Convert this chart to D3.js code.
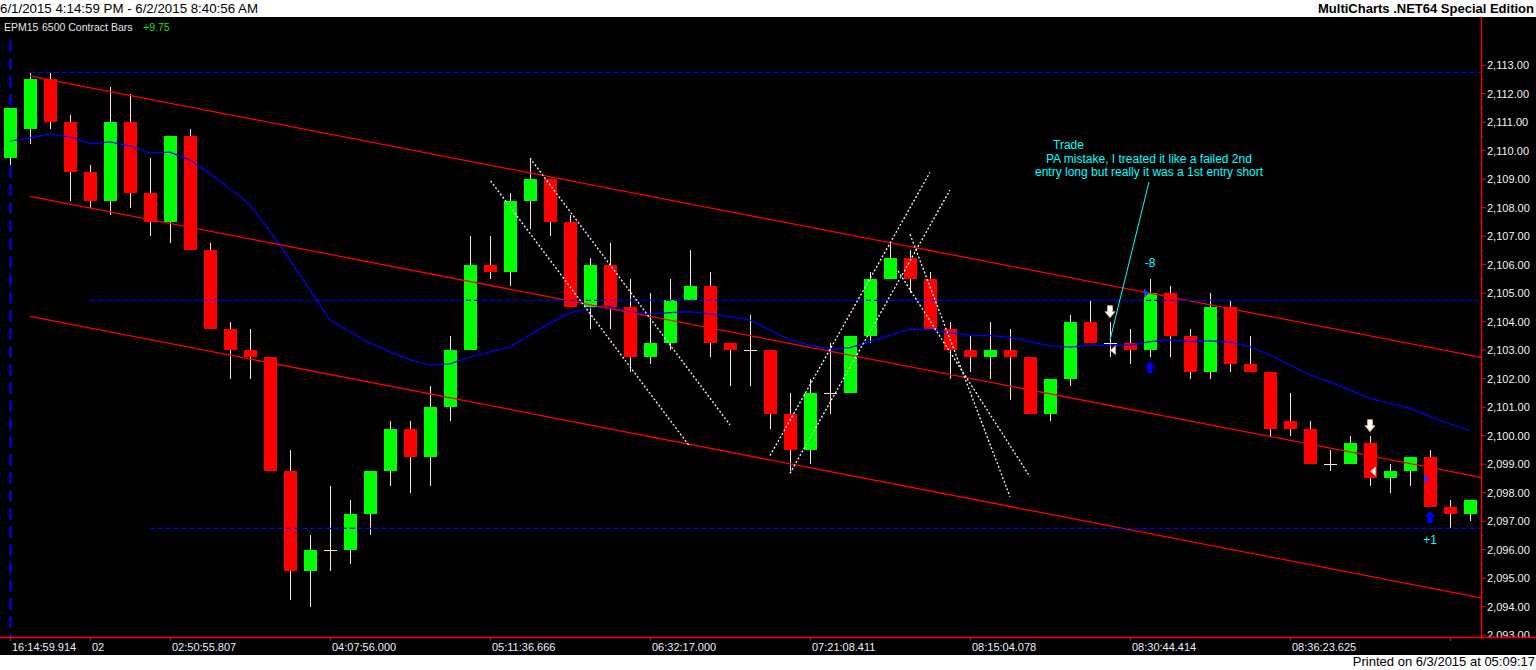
<!DOCTYPE html>
<html>
<head>
<meta charset="utf-8">
<script src="https://cdn.jsdelivr.net/npm/d3@7"></script>
<style>
body { margin:0; background:#fff; }
svg { display:block; font-family:"Liberation Sans", Arial, sans-serif; }
</style>
</head>
<body>
<svg></svg>
<script>
// EPM15 6500 contract bars, one entry per bar
var opens = [2109.75,2110.75,2112.5,2111,2109.25,2108.25,2111,2108.5,2107.5,2110.5,
  2106.5,2103.75,2103,2102.75,2098.75,2095.25,2096,2096,2097.25,2098.75,
  2100.25,2099.25,2101,2103,2106,2105.75,2108.25,2109,2107.5,2104.5,
  2106,2104.5,2102.75,2103.25,2104.75,2105.25,2103.25,2103,2103,2100.75,
  2099.5,2101.5,2101.5,2103.5,2105.5,2106.25,2105.5,2103.75,2103,2102.75,
  2103,2102.75,2100.75,2102,2104,2103.25,2103.25,2103,2105,2103.5,
  2102.25,2104.5,2102.5,2102.25,2100.5,2100.25,2099,2099,2099.75,2098.5,
  2098.75,2099.25,2097.5,2097.25];
var highs = [2111.5,2112.75,2112.75,2111.25,2109.5,2112.25,2112,2109.75,2110.5,2110.75,
  2106.75,2104,2103.75,2102.75,2099.5,2096.5,2098.25,2097.75,2098.75,2100.5,
  2100.5,2101.75,2103.5,2107,2107,2108.5,2109.75,2109,2107.75,2106.25,
  2106.75,2105.5,2105,2105.5,2106.5,2105.75,2103.25,2104.25,2103,2101.5,
  2102,2103.25,2103.5,2105.75,2106.75,2106.5,2105.75,2104,2103.5,2104,
  2103.75,2102.75,2102,2104.25,2104.75,2104,2103.75,2105.5,2105.25,2103.75,
  2105,2104.75,2103.5,2102.25,2101.5,2100.5,2099.5,2100,2100,2099,
  2099.25,2099.5,2097.75,2097.75];
var lows = [2109.5,2110.25,2110.75,2108.25,2108,2107.75,2108,2107,2106.75,2106.5,
  2103.75,2102,2102,2098.75,2094.25,2094,2095.25,2095.5,2096.5,2098.25,
  2098,2098.25,2100.5,2103,2105.5,2105.25,2107.25,2107,2104.5,2103.75,
  2103.75,2102.25,2102.5,2103,2104.75,2102.75,2101.75,2101.75,2100.25,2098.75,
  2099,2100.75,2101.5,2103.25,2105.5,2105,2103.75,2102,2102.25,2102,
  2101.25,2100.75,2100.5,2101.75,2103.25,2102.75,2102.5,2102.75,2102.75,2102,
  2102,2102.25,2102.25,2100,2100,2099,2098.75,2099,2098.25,2098,
  2098.25,2097.5,2096.75,2097];
var closes = [2111.5,2112.5,2111,2109.25,2108.25,2111,2108.5,2107.5,2110.5,2106.5,
  2103.75,2103,2102.75,2098.75,2095.25,2096,2096,2097.25,2098.75,2100.25,
  2099.25,2101,2103,2106,2105.75,2108.25,2109,2107.5,2104.5,2106,
  2104.5,2102.75,2103.25,2104.75,2105.25,2103.25,2103,2103,2100.75,2099.5,
  2101.5,2101.5,2103.5,2105.5,2106.25,2105.5,2103.75,2103,2102.75,2103,
  2102.75,2100.75,2102,2104,2103.25,2103.25,2103,2105,2103.5,2102.25,
  2104.5,2102.5,2102.25,2100.25,2100.25,2099,2099,2099.75,2098.5,2098.75,
  2099.25,2097.5,2097.25,2097.75];
// moving average (blue)
var avg = [2110.34,2110.45,2110.59,2110.48,2110.24,2110.31,2110.16,2109.92,2109.95,2109.67,
  2109.18,2108.66,2108.10,2107.18,2106.16,2105.11,2104.06,2103.64,2103.25,2102.94,
  2102.66,2102.48,2102.52,2102.76,2102.94,2103.11,2103.53,2103.95,2104.31,2104.48,
  2104.52,2104.35,2104.27,2104.32,2104.35,2104.27,2104.18,2104.06,2103.71,2103.36,
  2103.18,2103.04,2103.09,2103.30,2103.53,2103.73,2103.73,2103.61,2103.53,2103.51,
  2103.45,2103.30,2103.15,2103.11,2103.17,2103.18,2103.18,2103.30,2103.36,2103.30,
  2103.33,2103.28,2103.12,2102.83,2102.48,2102.13,2101.89,2101.60,2101.31,2101.14,
  2100.96,2100.67,2100.41,2100.18];

var priceTicks = [2093,2094,2095,2096,2097,2098,2099,2100,2101,2102,2103,
  2104,2105,2106,2107,2108,2109,2110,2111,2112,2113];
var timeTickBars = [0,4,8,16,24,32,40,48,56,64,72];
var timeLabels = ["16:14:59.914","02","02:50:55.807","04:07:56.000","05:11:36.666",
  "06:32:17.000","07:21:08.411","08:15:04.078","08:30:44.414","08:36:23.625",""];

// regression channel [bar, price] start / end
var channelBars = [1, 73.55];
var channelUpper = [2112.62, 2102.75];
var channelMid = [2108.40, 2098.54];
var channelLow = [2104.19, 2094.31];
// horizontal levels [start bar, price]
var levels = [[1, 2112.75], [4, 2104.75], [7, 2096.75]];
// dotted trend lines [bar1, price1, bar2, price2]
var trendLines = [[24.03,2108.94,34,2099.61],[26,2109.74,36,2100.38],
  [38,2099.30,46,2109.24],[39,2098.68,47,2108.62],
  [45,2107.07,50,2097.86],[44.4,2105.78,51,2098.56]];
// trade markers
var exitArrows = [55, 68];
var entryArrows = [57, 71];
var exitFills = [[55, 2103], [68, 2098.75]];
var entryFills = [[57, 2105], [71, 2098.5]];
var tradeResults = [[57, 2106.06, "-8"], [71, 2096.35, "+1"]];
var noteLines = ["Trade", "PA mistake, I treated it like a failed 2nd", "entry long but really it was a 1st entry short"];
var notePointer = [56.95, 2108.90, 55, 2103.36];
var titleParts = ["EPM15", "6500 Contract Bars", "+9.75"];

var W = 1536, H = 670;
var plotTop = 17, plotBottom = 637, axisX = 1481;

var svg = d3.select("svg").attr("width", W).attr("height", H);

var x = d3.scaleLinear().domain([0, 73]).range([10, 1470]);
var y = d3.scaleLinear().domain([2093, 2113]).range([635.2, 65.2]);

svg.append("rect").attr("width", W).attr("height", H).attr("fill", "#fff");
svg.append("rect").attr("x", 0).attr("y", plotTop).attr("width", W).attr("height", 655 - plotTop).attr("fill", "#000");

// header
svg.append("text").attr("x", 0).attr("y", 13).attr("font-size", 13.3).attr("fill", "#000")
  .text("6/1/2015 4:14:59 PM - 6/2/2015 8:40:56 AM");
svg.append("text").attr("x", 1534).attr("y", 13).attr("font-size", 13).attr("font-weight", "bold")
  .attr("text-anchor", "end").attr("fill", "#000").text("MultiCharts .NET64 Special Edition");
svg.append("text").attr("x", 1535).attr("y", 666).attr("font-size", 13).attr("text-anchor", "end")
  .attr("fill", "#000").text("Printed on 6/3/2015 at 05:09:17");

var titleX = [4, 42, 143];
svg.selectAll(".title").data(titleParts).enter().append("text")
  .attr("x", function(d, i) { return titleX[i]; }).attr("y", 31)
  .attr("font-size", 10.5)
  .attr("fill", function(d, i) { return i == 2 ? "#22dd22" : "#e6e6e6"; })
  .text(function(d) { return d; });

// session start
svg.append("line").attr("x1", x(0) + 0.5).attr("x2", x(0) + 0.5).attr("y1", 40).attr("y2", plotBottom)
  .attr("stroke", "#0000ff").attr("stroke-width", 2).attr("stroke-dasharray", "12,6");

// candles
var idx = d3.range(opens.length);
var g = svg.append("g").attr("shape-rendering", "crispEdges");
g.selectAll(".wick").data(idx).enter().append("line")
  .attr("x1", function(i) { return Math.round(x(i)) + 0.5; })
  .attr("x2", function(i) { return Math.round(x(i)) + 0.5; })
  .attr("y1", function(i) { return y(highs[i]); })
  .attr("y2", function(i) { return y(lows[i]); })
  .attr("stroke", "#ffe2e2").attr("stroke-width", 1);
g.selectAll(".body").data(idx.filter(function(i) { return opens[i] != closes[i]; })).enter().append("rect")
  .attr("x", function(i) { return Math.round(x(i)) - 6; })
  .attr("width", 13)
  .attr("y", function(i) { return y(Math.max(opens[i], closes[i])); })
  .attr("height", function(i) { return Math.max(1, y(Math.min(opens[i], closes[i])) - y(Math.max(opens[i], closes[i]))); })
  .attr("fill", function(i) { return closes[i] > opens[i] ? "#00ff00" : "#ff0000"; });
g.selectAll(".cross").data(idx.filter(function(i) { return opens[i] == closes[i]; })).enter().append("line")
  .attr("x1", function(i) { return Math.round(x(i)) - 6; })
  .attr("x2", function(i) { return Math.round(x(i)) + 7; })
  .attr("y1", function(i) { return Math.round(y(closes[i])) + 0.5; })
  .attr("y2", function(i) { return Math.round(y(closes[i])) + 0.5; })
  .attr("stroke", "#ffe2e2").attr("stroke-width", 1);

// moving average
svg.append("path").datum(avg)
  .attr("d", d3.line().x(function(d, i) { return x(i); }).y(function(d) { return y(d); }))
  .attr("fill", "none").attr("stroke", "#0000ff").attr("stroke-width", 1.2);

// channel
[channelUpper, channelMid, channelLow].forEach(function(c) {
  svg.append("line")
    .attr("x1", x(channelBars[0])).attr("y1", y(c[0]))
    .attr("x2", x(channelBars[1])).attr("y2", y(c[1]))
    .attr("stroke", "#ff0000").attr("stroke-width", 1.3);
});

// levels
svg.selectAll(".level").data(levels).enter().append("line")
  .attr("x1", function(d) { return x(d[0]); }).attr("x2", axisX)
  .attr("y1", function(d) { return y(d[1]); }).attr("y2", function(d) { return y(d[1]); })
  .attr("stroke", "#0000ff").attr("stroke-width", 1.3).attr("stroke-dasharray", "5,3");

// trend lines
svg.selectAll(".trend").data(trendLines).enter().append("line")
  .attr("x1", function(d) { return x(d[0]); }).attr("y1", function(d) { return y(d[1]); })
  .attr("x2", function(d) { return x(d[2]); }).attr("y2", function(d) { return y(d[3]); })
  .attr("stroke", "#eaffff").attr("stroke-width", 1.3).attr("stroke-dasharray", "2,2");

// trade markers
var downArrow = "M-2.5,-12L2.5,-12L2.5,-6L5,-6L0,0L-5,-6L-2.5,-6Z";
var upArrow = "M-2.5,12L2.5,12L2.5,6L5,6L0,0L-5,6L-2.5,6Z";
svg.selectAll(".exitArrow").data(exitArrows).enter().append("path")
  .attr("transform", function(i) { return "translate(" + x(i) + "," + (y(highs[i]) - 4) + ")"; })
  .attr("d", downArrow).attr("fill", "#ffffff").attr("stroke", "#f0b080").attr("stroke-width", 0.8);
svg.selectAll(".entryArrow").data(entryArrows).enter().append("path")
  .attr("transform", function(i) { return "translate(" + x(i) + "," + (y(lows[i]) + 4) + ")"; })
  .attr("d", upArrow).attr("fill", "#0000ff");
svg.selectAll(".exitFill").data(exitFills).enter().append("path")
  .attr("transform", function(d) { return "translate(" + x(d[0]) + "," + y(d[1]) + ")"; })
  .attr("d", "M0.5,0L5.5,-4.5L5.5,4.5Z").attr("fill", "#ffffff").attr("stroke", "#f0b080").attr("stroke-width", 0.6);
svg.selectAll(".entryFill").data(entryFills).enter().append("path")
  .attr("transform", function(d) { return "translate(" + x(d[0]) + "," + y(d[1]) + ")"; })
  .attr("d", "M-1,0L-6,-4.5L-6,4.5Z").attr("fill", "#3030ff");
svg.selectAll(".result").data(tradeResults).enter().append("text")
  .attr("x", function(d) { return x(d[0]); }).attr("y", function(d) { return y(d[1]) + 4; })
  .attr("text-anchor", "middle").attr("font-size", 12).attr("fill", "#00ffff")
  .text(function(d) { return d[2]; });

// note
svg.append("line")
  .attr("x1", x(notePointer[0])).attr("y1", y(notePointer[1]))
  .attr("x2", x(notePointer[2])).attr("y2", y(notePointer[3]))
  .attr("stroke", "#00ffff").attr("stroke-width", 1);
var noteX = [1053, 1046, 1035];
svg.selectAll(".note").data(noteLines).enter().append("text")
  .attr("x", function(d, i) { return noteX[i]; })
  .attr("y", function(d, i) { return 149 + i * 13.5; })
  .attr("font-size", 12).attr("fill", "#00ffff").text(function(d) { return d; });

// price axis
svg.append("defs").append("clipPath").attr("id", "axclip").append("rect")
  .attr("x", axisX).attr("y", plotTop).attr("width", W - axisX).attr("height", plotBottom - plotTop);
var ay = svg.append("g").attr("clip-path", "url(#axclip)");
var minor = [];
priceTicks.forEach(function(p) { minor.push(p + 0.5); });
ay.selectAll(".minor").data(minor).enter().append("line")
  .attr("x1", axisX).attr("x2", axisX + 2)
  .attr("y1", function(d) { return y(d); }).attr("y2", function(d) { return y(d); })
  .attr("stroke", "#ff0000");
ay.selectAll(".major").data(priceTicks).enter().append("line")
  .attr("x1", axisX).attr("x2", axisX + 5)
  .attr("y1", function(d) { return y(d); }).attr("y2", function(d) { return y(d); })
  .attr("stroke", "#ff0000");
ay.selectAll(".plabel").data(priceTicks).enter().append("text")
  .attr("x", axisX + 6).attr("y", function(d) { return y(d) + 4; })
  .attr("font-size", 11).attr("fill", "#f2f2f2")
  .text(function(d) { return d3.format(",.2f")(d); });
svg.append("line").attr("x1", axisX + 0.5).attr("x2", axisX + 0.5).attr("y1", plotTop).attr("y2", plotBottom)
  .attr("stroke", "#ff0000").attr("stroke-width", 1.3);

// time axis
svg.append("line").attr("x1", 0).attr("x2", W).attr("y1", plotBottom + 0.5).attr("y2", plotBottom + 0.5)
  .attr("stroke", "#ff0000").attr("stroke-width", 1.3);
svg.selectAll(".tt").data(timeTickBars).enter().append("line")
  .attr("x1", function(d) { return Math.round(x(d)) + 0.5; }).attr("x2", function(d) { return Math.round(x(d)) + 0.5; })
  .attr("y1", plotBottom).attr("y2", plotBottom + 4).attr("stroke", "#ff0000");
svg.selectAll(".tlabel").data(timeTickBars).enter().append("text")
  .attr("x", function(d) { return x(d) + 2; }).attr("y", 651)
  .attr("font-size", 11).attr("fill", "#e8eeff")
  .text(function(d, i) { return timeLabels[i]; });
</script>
</body>
</html>
